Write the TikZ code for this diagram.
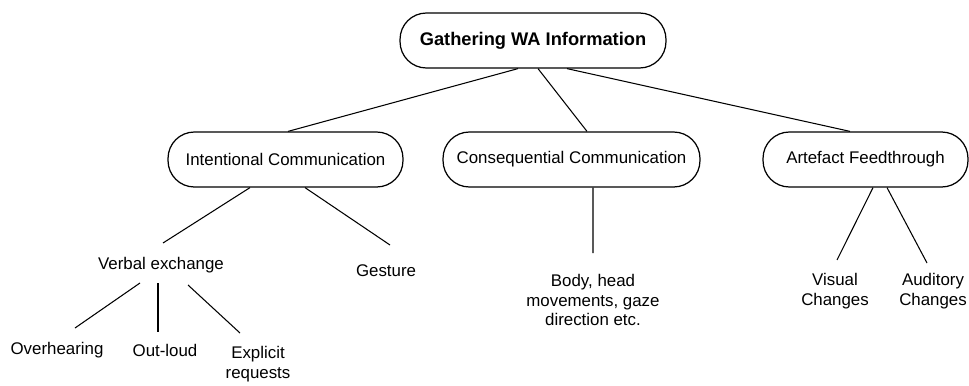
\documentclass[tikz,border=0pt]{standalone}
\usepackage{fontspec}
\setmainfont{Liberation Sans}
\usetikzlibrary{calc}

\begin{document}
\begin{tikzpicture}[
  x=0.02cm, y=-0.02cm,
  font=\fontsize{9.6}{11.3}\selectfont,
  topic/.style={draw, line width=0.7pt, rounded corners=15pt,
                minimum height=1.1cm, inner sep=0pt},
  leaf/.style={align=center, inner sep=0pt},
  link/.style={line width=0.6pt}
]
  \useasboundingbox (0,0) rectangle (969,385);

  % top level
  \node[topic, minimum width=5.32cm, font=\fontsize{10.4}{12}\selectfont\bfseries]
    (root) at (533,40.5) {Gathering WA Information};

  % second level
  \node[topic, minimum width=4.7cm]  (intent) at (285.5,159.5) {Intentional Communication};
  \node[topic, minimum width=5.14cm] (conseq) at (571.5,159.5) {Consequential Communication};
  \node[topic, minimum width=4.1cm]  (artef)  at (865.5,159.5) {Artefact Feedthrough};

  % leaves
  \node[leaf] (verbal)  at (161,265) {Verbal exchange};
  \node[leaf] (gesture) at (386,271) {Gesture};
  \node[leaf] (over)    at (57,350)  {Overhearing};
  \node[leaf] (outloud) at (165,350) {Out-loud};
  \node[leaf] (explic)  at (258,364) {Explicit\\requests};
  \node[leaf] (body)    at (593,300) {Body, head\\movements, gaze\\direction etc.};
  \node[leaf] (visual)  at (835,291) {Visual\\Changes};
  \node[leaf] (audit)   at (933,291) {Auditory\\Changes};

  \draw[link] ($(root.south)+(-15,0)$) -- ($(intent.north)+(2.5,0)$);
  \draw[link] ($(root.south)+(5,0)$)   -- ($(conseq.north)+(15.5,0)$);
  \draw[link] ($(root.south)+(34,0)$)  -- ($(artef.north)+(-15.5,0)$);

  \draw[link] ($(intent.south)+(-35.5,0)$) -- ($(verbal)+(2,-22)$);
  \draw[link] ($(intent.south)+(19.5,0)$)  -- ($(gesture)+(4,-26)$);

  \draw[link] ($(verbal)+(-21,18)$) -- ($(over)+(18,-22)$);
  \draw[link] ($(verbal)+(-3,18)$)  -- ($(outloud)+(-7,-18)$);
  \draw[link] ($(verbal)+(27,20)$)  -- ($(explic)+(-18,-31)$);

  \draw[link] ($(conseq.south)+(21.5,0)$) -- ($(body)+(0,-47)$);

  \draw[link] ($(artef.south)+(7.5,0)$)  -- ($(visual)+(2,-31)$);
  \draw[link] ($(artef.south)+(21.5,0)$) -- ($(audit)+(-6,-28)$);
\end{tikzpicture}
\end{document}
